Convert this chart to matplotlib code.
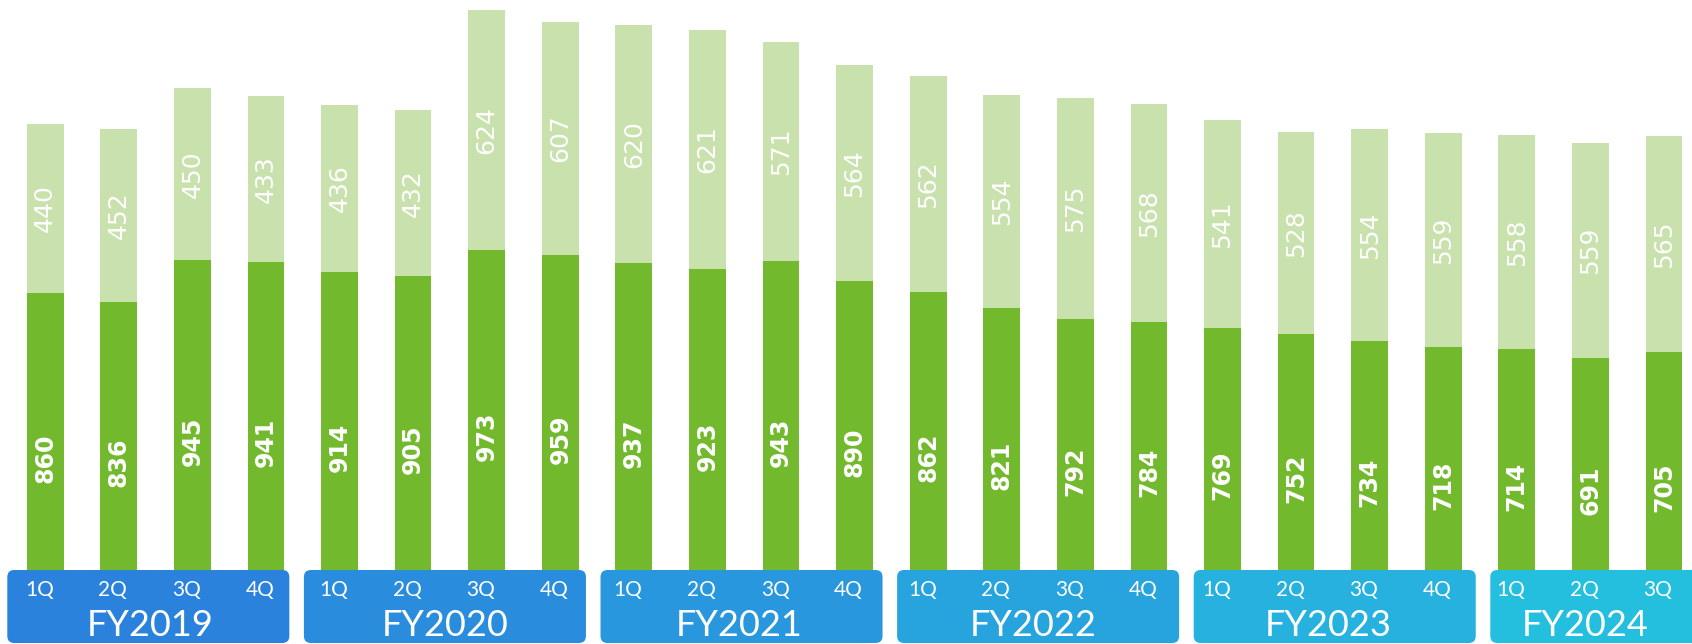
import matplotlib
matplotlib.use("Agg")
import matplotlib.pyplot as plt
from matplotlib.patches import FancyBboxPatch
from matplotlib.transforms import IdentityTransform, blended_transform_factory

# ---- data ----
fiscal_years = ["FY2019", "FY2020", "FY2021", "FY2022", "FY2023", "FY2024"]
quarters = ["1Q", "2Q", "3Q", "4Q"]
dark_values = [860, 836, 945, 941, 914, 905, 973, 959, 937, 923, 943, 890,
               862, 821, 792, 784, 769, 752, 734, 718, 714, 691, 705]
light_values = [440, 452, 450, 433, 436, 432, 624, 607, 620, 621, 571, 564,
                562, 554, 575, 568, 541, 528, 554, 559, 558, 559, 565]

# ---- style ----
DARK = "#72B92E"
LIGHT = "#C8E1AD"
BOX_COLORS = ["#2A82DC", "#2A8CDD", "#2897DD", "#27A3DD", "#26B1DE", "#24BEDE"]

W, H = 1692, 644
fig = plt.figure(figsize=(W / 100, H / 100), dpi=100)
ax = fig.add_axes([0, 21 / H, 1, 623 / H])
ax.set_xlim(-0.6143, 22.381)
ax.set_ylim(0, 1623)
ax.axis("off")

x = list(range(len(dark_values)))
ax.bar(x, dark_values, width=0.5, color=DARK, zorder=2)
ax.bar(x, light_values, width=0.5, bottom=dark_values, color=LIGHT, zorder=2)

for i, (d, l) in enumerate(zip(dark_values, light_values)):
    ax.text(i, d / 2, str(d), rotation=90, ha="center", va="center",
            color="white", fontsize=17, fontweight="bold",
            family="DejaVu Sans", zorder=3)
    ax.text(i, d + l / 2, str(l), rotation=90, ha="center", va="center",
            color="white", fontsize=18, family="DejaVu Sans", zorder=3)

# ---- fiscal year boxes (pixel geometry derived from data x positions) ----
fig.canvas.draw()
blend = blended_transform_factory(ax.transData, IdentityTransform())
box_bottom, box_top = 1, 74
n = len(dark_values)
for g, fy in enumerate(fiscal_years):
    left_data = -0.515 + 4.031 * g
    right_data = left_data + 3.833
    xl = ax.transData.transform((left_data, 0))[0]
    xr = ax.transData.transform((right_data, 0))[0]
    patch = FancyBboxPatch((xl, box_bottom), xr - xl, box_top - box_bottom,
                           boxstyle="round,pad=0,rounding_size=7",
                           transform=IdentityTransform(), facecolor=BOX_COLORS[g],
                           edgecolor="none", clip_on=False, zorder=5)
    ax.add_patch(patch)
    present = [4 * g + k for k in range(4) if 4 * g + k < n]
    for k, idx in enumerate(present):
        ax.text(idx - 0.08, 54, quarters[k], transform=blend, ha="center",
                va="center", color="white", fontsize=15, family="Lato",
                zorder=6, clip_on=False)
    center = sum(present) / len(present) - 0.07
    ax.text(center, 19, fy, transform=blend, ha="center",
            va="center", color="white", fontsize=26, family="Lato",
            zorder=6, clip_on=False)

fig.savefig("out.png", dpi=100)
